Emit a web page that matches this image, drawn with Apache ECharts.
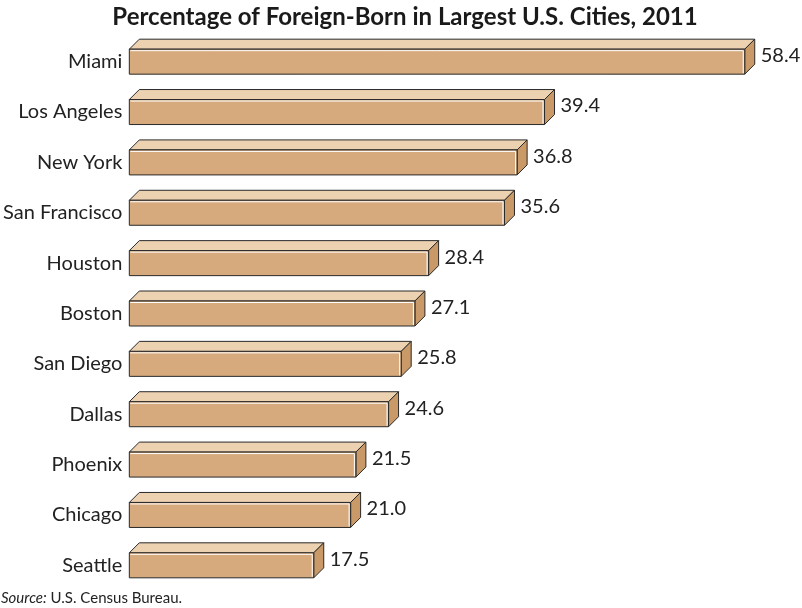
<!DOCTYPE html>
<html><head><meta charset="utf-8">
<script src="https://cdn.jsdelivr.net/npm/echarts@6/dist/echarts.min.js"></script>
<style>html,body{margin:0;padding:0;background:#fff}#c{width:802px;height:608px}</style>
</head><body><div id="c"></div>
<script>
const cities = ["Miami","Los Angeles","New York","San Francisco","Houston","Boston","San Diego","Dallas","Phoenix","Chicago","Seattle"];
const percents = [58.4,39.4,36.8,35.6,28.4,27.1,25.8,24.6,21.5,21.0,17.5];
const valueLabels = ["58.4","39.4","36.8","35.6","28.4","27.1","25.8","24.6","21.5","21.0","17.5"];

const chart = echarts.init(document.getElementById('c'));
const FONT = 'Lato, "Open Sans", sans-serif';
chart.setOption({
  animation:false,
  title:{text:'Percentage of Foreign-Born in Largest U.S. Cities, 2011',left:400,textAlign:'center',top:0,
    textStyle:{fontFamily:FONT,fontWeight:'bold',fontSize:24,color:'#1a1a1a'}},
  graphic:[{type:'text',left:1,top:591,style:{text:'{i|Source:} U.S. Census Bureau.',
    rich:{i:{fontStyle:'italic',fontFamily:FONT,fontSize:15,fill:'#222'}},fontFamily:FONT,fontSize:15,fill:'#222'}}],
  grid:{left:128,right:40.4,top:36.5,bottom:17.5},
  xAxis:{type:'value',min:0,max:60,show:false},
  yAxis:{type:'category',data:cities,inverse:true,axisLine:{show:false},axisTick:{show:false},
    axisLabel:{fontFamily:FONT,fontSize:20,color:'#222',margin:7}},
  series:[{type:'custom',
    data:percents.map((v,i)=>[v,i]),
    encode:{x:0,y:1},
    renderItem:function(params,api){
      const v=api.value(0), c=api.value(1);
      const p0=api.coord([0,c]), p1=api.coord([v,c]);
      const x0=p0[0], x1=p1[0], yc=p0[1];
      const h=25, d=10;
      const yt=yc-h/2, yb=yc+h/2;
      const line='#2a2a2a';
      return {type:'group',children:[
        {type:'polygon',shape:{points:[[x0,yt],[x0+d,yt-d],[x1+d,yt-d],[x1,yt]]},
          style:{fill:'#edd2b2',stroke:line,lineWidth:1}},
        {type:'polygon',shape:{points:[[x1,yt],[x1+d,yt-d],[x1+d,yb-d],[x1,yb]]},
          style:{fill:'#c99a68',stroke:line,lineWidth:1}},
        {type:'rect',shape:{x:x0,y:yt,width:x1-x0,height:h},
          style:{fill:'#d6aa7c',stroke:line,lineWidth:1}},
        {type:'polyline',shape:{points:[[x0+1,yt+1.5],[x1-1.5,yt+1.5],[x1-1.5,yb-1]]},
          style:{stroke:'#fff',lineWidth:1,fill:null}},
        {type:'text',style:{x:x1+d+6,y:yc-6,text:valueLabels[c],fontFamily:FONT,fontSize:20,fill:'#222',verticalAlign:'middle',align:'left'}}
      ]};
    }
  }]
});
</script></body></html>
